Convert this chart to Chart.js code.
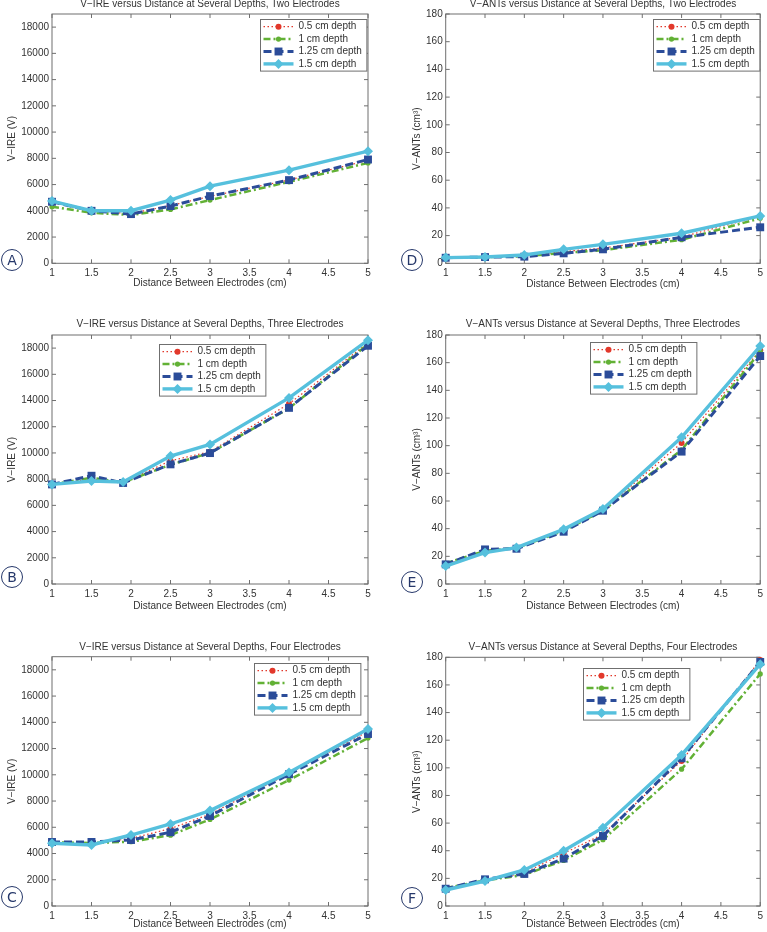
<!DOCTYPE html>
<html>
<head>
<meta charset="utf-8">
<script src="https://cdn.jsdelivr.net/npm/chart.js@4.4.1/dist/chart.umd.min.js"></script>
<style>
  body { margin: 0; background: #fff; width: 767px; height: 932px; overflow: hidden; position: relative; }
  canvas { position: absolute; }
  .tag { position: absolute; width: 20px; height: 20px; border: 1.3px solid #26386a; border-radius: 50%;
         color: #26386a; font: 14px "DejaVu Sans", sans-serif; text-align: center; line-height: 20px; }
</style>
</head>
<body>
<canvas id="chartA"></canvas>
<canvas id="chartB"></canvas>
<canvas id="chartC"></canvas>
<canvas id="chartD"></canvas>
<canvas id="chartE"></canvas>
<canvas id="chartF"></canvas>
<div class="tag" style="left:1px;top:249px">A</div>
<div class="tag" style="left:1px;top:566px">B</div>
<div class="tag" style="left:1px;top:886px">C</div>
<div class="tag" style="left:401px;top:249px">D</div>
<div class="tag" style="left:401px;top:571px">E</div>
<div class="tag" style="left:401px;top:887px">F</div>
<script>
// distances (cm)
const xTwo = [1, 1.5, 2, 2.5, 3, 4, 5];
const xThree = [1, 1.5, 1.9, 2.5, 3, 4, 5];
const xFour = [1, 1.5, 2, 2.5, 3, 4, 5];
const depthLabels = ['0.5 cm depth', '1 cm depth', '1.25 cm depth', '1.5 cm depth'];

// tick labels
const distTicks = [1, 1.5, 2, 2.5, 3, 3.5, 4, 4.5, 5];
const ireTicks = [0, 2000, 4000, 6000, 8000, 10000, 12000, 14000, 16000, 18000];
const antTicks = [0, 20, 40, 60, 80, 100, 120, 140, 160, 180];

// V-IRE (V), order: 0.5, 1, 1.25, 1.5 cm depth
const ireTwo = [
  [4650, 3950, 3800, 4400, 5100, 6350, 7850],
  [4310, 3850, 3680, 4100, 4820, 6210, 7650],
  [4690, 4000, 3750, 4360, 5120, 6340, 7910],
  [4740, 4005, 4005, 4816, 5880, 7097, 8543]
];
const ireThree = [
  [7600, 8000, 7750, 9400, 10100, 13750, 18400],
  [7600, 8100, 7750, 9100, 10000, 13400, 18300],
  [7600, 8260, 7710, 9130, 9990, 13440, 18180],
  [7600, 7860, 7780, 9760, 10650, 14200, 18600]
];
const ireFour = [
  [4800, 4750, 5150, 5900, 7000, 10100, 13300],
  [4850, 4800, 4900, 5400, 6600, 9600, 12800],
  [4880, 4880, 5030, 5620, 6860, 10040, 13110],
  [4780, 4650, 5410, 6250, 7270, 10170, 13490]
];

// V-ANTs (cm3)
const antTwo = [
  [4, 4.5, 5.5, 8.5, 11, 19, 34],
  [4, 4.5, 5, 7.5, 9.5, 17, 32.5],
  [4, 4.5, 4.8, 7.2, 10.1, 18.8, 26],
  [4.1, 4.6, 6.0, 10.1, 13.7, 21.7, 34.2]
];
const antThree = [
  [14, 23.5, 26, 39, 53.5, 102, 169],
  [15, 24, 26, 38.5, 53, 97, 168],
  [14.2, 25, 25.5, 37.8, 53, 95.7, 164.8],
  [13, 22.7, 26.3, 39.5, 54.2, 106, 172]
];
const antFour = [
  [12.5, 18.5, 24, 38, 52, 105, 178],
  [13, 18.5, 22.5, 33, 48, 99, 168],
  [12.5, 19.3, 23.2, 34.3, 50.7, 106.9, 176.6],
  [11.6, 18.1, 26.1, 40, 56.7, 109.3, 175]
];

const lineStyles = [
  { color: '#e2382b', width: 1.2, dash: [1.5, 2.5], point: 'circle', r: 3 },
  { color: '#62b135', width: 2.5, dash: [7, 3, 2, 3], point: 'circle', r: 2.6 },
  { color: '#2b4c99', width: 3, dash: [8, 4], point: 'rect', r: 5.6 },
  { color: '#56c0dd', width: 3.4, dash: [], point: 'rectRot', r: 5 }
];

const FONT = '"Liberation Sans", Arial, sans-serif';
const TXT = '#333';
const AXIS = '#6f6f6f';

function drawMarker(ctx, style, r, x, y, color) {
  ctx.fillStyle = color;
  ctx.beginPath();
  if (style === 'rect') {
    const s = r * Math.SQRT1_2;
    ctx.rect(x - s, y - s, 2 * s, 2 * s);
  } else if (style === 'rectRot') {
    ctx.moveTo(x, y - r); ctx.lineTo(x + r, y); ctx.lineTo(x, y + r); ctx.lineTo(x - r, y); ctx.closePath();
  } else {
    ctx.arc(x, y, r, 0, Math.PI * 2);
  }
  ctx.fill();
}

// MATLAB style box with inward ticks on all sides
const boxAxes = {
  id: 'boxAxes',
  beforeDatasetsDraw(chart) {
    const { ctx, chartArea: a, scales } = chart;
    ctx.save();
    ctx.strokeStyle = AXIS;
    ctx.lineWidth = 1;
    ctx.setLineDash([]);
    ctx.strokeRect(a.left, a.top, a.right - a.left, a.bottom - a.top);
    ctx.beginPath();
    scales.x.ticks.forEach(t => {
      const px = scales.x.getPixelForValue(t.value);
      ctx.moveTo(px, a.bottom); ctx.lineTo(px, a.bottom - 4);
      ctx.moveTo(px, a.top); ctx.lineTo(px, a.top + 4);
    });
    scales.y.ticks.forEach(t => {
      const py = scales.y.getPixelForValue(t.value);
      ctx.moveTo(a.left, py); ctx.lineTo(a.left + 4, py);
      ctx.moveTo(a.right, py); ctx.lineTo(a.right - 4, py);
    });
    ctx.stroke();
    ctx.restore();
  }
};

// legend box inside the plot
const boxLegend = {
  id: 'boxLegend',
  afterDraw(chart, args, opts) {
    const { ctx, chartArea } = chart;
    const x0 = Math.round(chartArea.left + opts.dx) + 0.5;
    const y0 = Math.round(chartArea.top + opts.dy) + 0.5;
    const sets = chart.data.datasets;
    ctx.save();
    ctx.font = '10px ' + FONT;
    const tw = Math.max(...sets.map(d => ctx.measureText(d.label).width));
    const rowH = 12.4;
    const w = 3 + 30 + 5 + tw + 5;
    const h = sets.length * rowH + 2;
    ctx.fillStyle = '#fff';
    ctx.fillRect(x0, y0, w, h);
    ctx.strokeStyle = AXIS;
    ctx.lineWidth = 1;
    ctx.strokeRect(x0, y0, w, h);
    sets.forEach((d, i) => {
      const y = y0 + 1 + rowH * (i + 0.5);
      ctx.setLineDash(d.borderDash);
      ctx.strokeStyle = d.borderColor;
      ctx.lineWidth = d.borderWidth;
      ctx.beginPath();
      ctx.moveTo(x0 + 3, y); ctx.lineTo(x0 + 33, y);
      ctx.stroke();
      ctx.setLineDash([]);
      drawMarker(ctx, d.pointStyle, d.pointRadius, x0 + 18, y, d.pointBackgroundColor);
      ctx.fillStyle = TXT;
      ctx.textBaseline = 'middle';
      ctx.textAlign = 'left';
      ctx.fillText(d.label, x0 + 38, y);
    });
    ctx.restore();
  }
};

function panel(id, g, xs, series, yTicks, yMax, yTitle, title, leg) {
  const cv = document.getElementById(id);
  const top = Math.round(g.titleY - 8);
  const bottom = Math.min(932, Math.round(g.xTitleY + 8));
  cv.style.left = g.left + 'px';
  cv.style.top = top + 'px';
  cv.width = g.width;
  cv.height = bottom - top;

  const datasets = series.map((vals, i) => {
    const s = lineStyles[i];
    return {
      label: depthLabels[i],
      data: xs.map((x, j) => ({ x: x, y: vals[j] })),
      borderColor: s.color,
      backgroundColor: s.color,
      borderWidth: s.width,
      borderDash: s.dash,
      pointStyle: s.point,
      pointRadius: s.r,
      pointBackgroundColor: s.color,
      pointBorderColor: s.color,
      pointBorderWidth: 0,
      tension: 0,
      clip: false,
      order: 3 - i
    };
  });

  new Chart(cv, {
    type: 'line',
    data: { datasets: datasets },
    options: {
      responsive: false,
      animation: false,
      events: [],
      layout: { padding: { left: 0, top: 0, bottom: 0, right: g.left + g.width - g.plotRight } },
      plugins: {
        legend: { display: false },
        tooltip: { enabled: false },
        title: {
          display: true,
          fullSize: false,
          text: title,
          color: TXT,
          font: { family: FONT, size: 10, weight: 'normal' },
          padding: { top: g.titleY - top - 6, bottom: g.plotTop - g.titleY - 6 }
        },
        boxLegend: leg
      },
      scales: {
        x: {
          type: 'linear',
          min: 1, max: 5,
          afterBuildTicks: s => { s.ticks = distTicks.map(v => ({ value: v })); },
          afterFit: s => { s.height = bottom - g.plotBottom; },
          grid: { display: false, drawTicks: false },
          border: { display: false },
          ticks: { color: TXT, font: { family: FONT, size: 10 }, padding: 4, maxRotation: 0, autoSkip: false,
                   callback: v => String(v) },
          title: {
            display: true, text: 'Distance Between Electrodes (cm)', color: TXT,
            font: { family: FONT, size: 10 }, padding: { top: 0, bottom: bottom - g.xTitleY - 6 }
          }
        },
        y: {
          type: 'linear',
          min: 0, max: yMax,
          afterBuildTicks: s => { s.ticks = yTicks.map(v => ({ value: v })); },
          afterFit: s => { s.width = g.plotLeft - g.left; },
          grid: { display: false, drawTicks: false },
          border: { display: false },
          ticks: { color: TXT, font: { family: FONT, size: 10 }, padding: 3, autoSkip: false,
                   callback: v => String(v) },
          title: {
            display: true, text: yTitle, color: TXT,
            font: { family: FONT, size: 10 }, padding: { top: g.yTitleX - g.left - 6, bottom: 0 }
          }
        }
      }
    },
    plugins: [boxAxes, boxLegend]
  });
}

const leftCol = { left: 0, width: 384, plotLeft: 52, plotRight: 368, yTitleX: 12.7 };
const rightCol = { left: 384, width: 383, plotLeft: 445.7, plotRight: 762.3, yTitleX: 417.3 };

panel('chartA', Object.assign({ plotTop: 14, plotBottom: 263.3, titleY: 4.5, xTitleY: 283.3 }, leftCol),
  xTwo, ireTwo, ireTicks, 19000, 'V\u2212IRE (V)',
  'V\u2212IRE versus Distance at Several Depths, Two Electrodes', { dx: 208, dy: 5 });
panel('chartB', Object.assign({ plotTop: 335, plotBottom: 584, titleY: 324, xTitleY: 606 }, leftCol),
  xThree, ireThree, ireTicks, 19000, 'V\u2212IRE (V)',
  'V\u2212IRE versus Distance at Several Depths, Three Electrodes', { dx: 107, dy: 9 });
panel('chartC', Object.assign({ plotTop: 656.7, plotBottom: 906, titleY: 647.7, xTitleY: 924 }, leftCol),
  xFour, ireFour, ireTicks, 19000, 'V\u2212IRE (V)',
  'V\u2212IRE versus Distance at Several Depths, Four Electrodes', { dx: 202, dy: 6 });
panel('chartD', Object.assign({ plotTop: 14, plotBottom: 263.3, titleY: 4.5, xTitleY: 284 }, rightCol),
  xTwo, antTwo, antTicks, 180, 'V\u2212ANTs (cm\u00B3)',
  'V\u2212ANTs versus Distance at Several Depths, Two Electrodes', { dx: 207, dy: 5 });
panel('chartE', Object.assign({ plotTop: 335, plotBottom: 584, titleY: 324.3, xTitleY: 606 }, rightCol),
  xThree, antThree, antTicks, 180, 'V\u2212ANTs (cm\u00B3)',
  'V\u2212ANTs versus Distance at Several Depths, Three Electrodes', { dx: 144, dy: 7 });
panel('chartF', Object.assign({ plotTop: 657.3, plotBottom: 906, titleY: 647.7, xTitleY: 924 }, rightCol),
  xFour, antFour, antTicks, 180, 'V\u2212ANTs (cm\u00B3)',
  'V\u2212ANTs versus Distance at Several Depths, Four Electrodes', { dx: 137, dy: 11 });
</script>
</body>
</html>
